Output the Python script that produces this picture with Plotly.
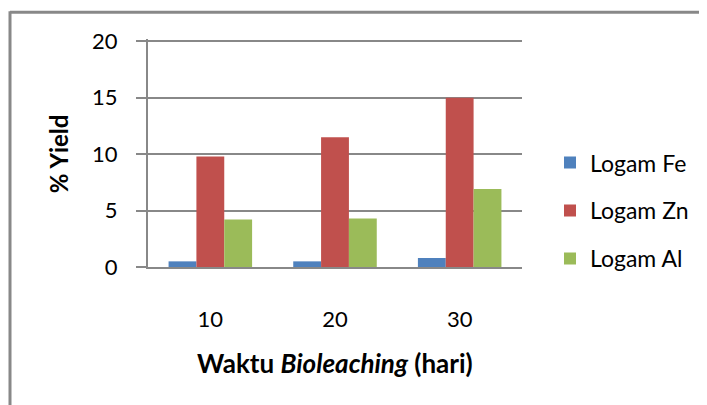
import plotly.graph_objects as go

categories = ["10", "20", "30"]
fe = [0.5, 0.5, 0.8]
zn = [9.8, 11.5, 15.0]
al = [4.2, 4.3, 6.9]
series_names = ["Logam Fe", "Logam Zn", "Logam Al"]
colors = ["#4F81BD", "#C0504D", "#9BBB59"]

FONT = "Lato"
fig = go.Figure()
for i, (name, vals) in enumerate(zip(series_names, [fe, zn, al])):
    fig.add_trace(go.Bar(x=categories, y=vals, name=name, marker_color=colors[i],
                         marker_line_width=0, legendgroup=name))

OFF = 8  # page body margin
W, H = 707 - OFF, 405 - OFF
X0, Y0 = 148, 267          # target pixel of axis origin (reference coords)
X1, Y20 = 522, 41
YMAX = 20.2
pw = X1 - X0
ph = (Y0 - Y20) * YMAX / 20
L = X0 - OFF
T = Y0 - ph - OFF
R = W - L - pw
B = H - T - ph


def px(x):
    return (x - X0) / pw


def py(y):
    return (Y0 - y) / ph


fig.update_layout(
    width=W, height=H,
    margin=dict(l=L, r=R, t=T, b=B, autoexpand=False, pad=0),
    paper_bgcolor="white", plot_bgcolor="white",
    barmode="group", bargap=0.33, bargroupgap=0,
    font=dict(family=FONT, size=22, color="black"),
    showlegend=True,
    legend=dict(x=px(550), y=py(141), xanchor="left", yanchor="top",
                font=dict(size=23), tracegroupgap=15, itemwidth=30,
                bgcolor="rgba(0,0,0,0)"),
    xaxis=dict(type="category", showline=True, linecolor="#888888", linewidth=2,
               ticks="", showgrid=False, ticklabelstandoff=32,
               tickfont=dict(size=22)),
    yaxis=dict(range=[0, YMAX], tickvals=[0, 5, 10, 15, 20], showline=True,
               linecolor="#888888", linewidth=2,
               ticks="outside", ticklen=10, tickcolor="#888888", tickwidth=2,
               gridcolor="#888888", gridwidth=2, zeroline=False,
               ticklabelstandoff=14, tickfont=dict(size=22)),
    shapes=[
        dict(type="line", xref="paper", yref="paper",
             x0=px(10), x1=px(720), y0=py(12), y1=py(12),
             line=dict(color="#888888", width=3)),
        dict(type="line", xref="paper", yref="paper",
             x0=px(10), x1=px(10), y0=py(11), y1=py(420),
             line=dict(color="#888888", width=3)),
    ],
    annotations=[
        dict(text="<b>Waktu <i>Bioleaching</i> (hari)</b>", xref="paper", yref="paper",
             x=0.5, y=py(363), xanchor="center", yanchor="middle",
             showarrow=False, font=dict(size=26)),
        dict(text="<b>% Yield</b>", xref="paper", yref="paper",
             x=px(58), y=py(154), xanchor="center", yanchor="middle",
             textangle=-90, showarrow=False, font=dict(size=24)),
    ],
)

fig.write_html("out.html", config={"displayModeBar": False})
